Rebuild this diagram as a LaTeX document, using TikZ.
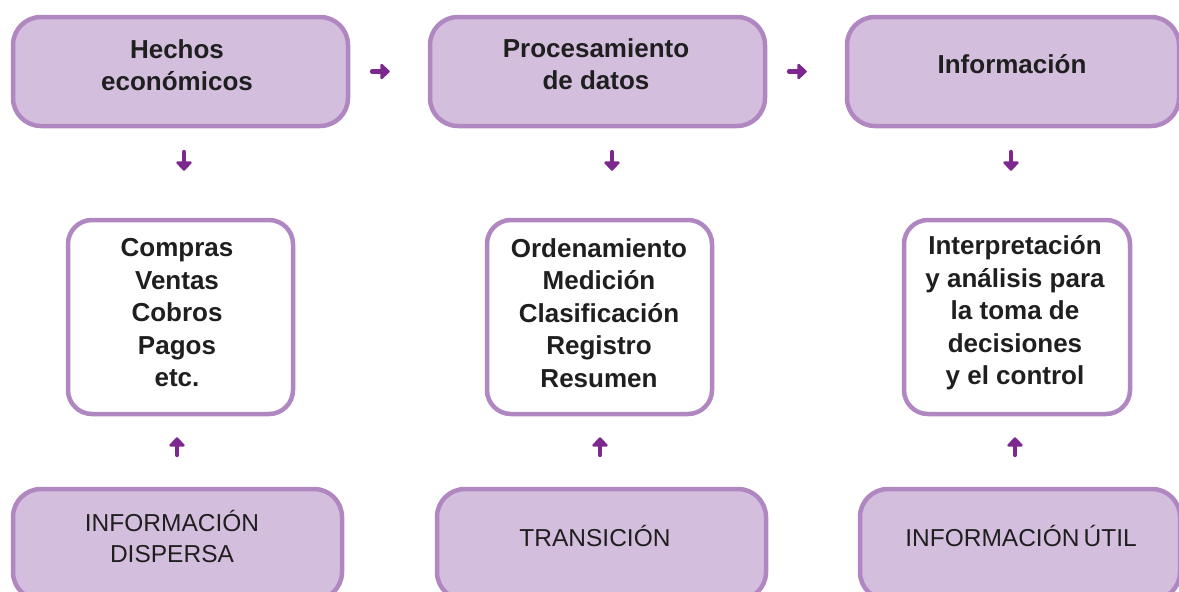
\documentclass[tikz,border=0pt]{standalone}
\usepackage{fontspec}
\setmainfont{Liberation Sans}
\newfontfamily\boldsp{Liberation Sans Bold}
\usetikzlibrary{arrows.meta}
\definecolor{boxfill}{RGB}{212,190,221}
\definecolor{boxline}{RGB}{177,135,193}
\definecolor{arrcol}{RGB}{125,40,142}
\tikzset{
  topbox/.style={draw=boxline, fill=boxfill, line width=4.5pt, rounded corners=28pt, inner sep=0pt},
  midbox/.style={draw=boxline, fill=white, line width=4.5pt, rounded corners=24pt, inner sep=0pt},
  btxt/.style={font=\boldsp\fontsize{26}{32.5}\selectfont, align=center, text=black!88, inner sep=0pt},
  rtxt/.style={font=\fontsize{24.5}{31}\selectfont, align=center, text=black!88, inner sep=0pt},
  arr/.style={draw=arrcol, line width=4.8pt, line cap=round, -{Triangle[length=10pt,width=18pt,round]}}
}
\begin{document}
\begin{tikzpicture}[x=1pt,y=-1pt]
\clip (0,0) rectangle (1179,592);
\fill[white] (0,0) rectangle (1179,592);
% top boxes
\node[topbox, minimum width=335pt, minimum height=109pt] (t1) at (180.5,71.5) {};
\node[topbox, minimum width=335pt, minimum height=109pt] (t2) at (597.5,71.5) {};
\node[topbox, minimum width=332pt, minimum height=109pt] (t3) at (1013,71.5) {};
% middle boxes
\node[midbox, minimum width=225pt, minimum height=194pt] (m1) at (180.5,317) {};
\node[midbox, minimum width=225pt, minimum height=194pt] (m2) at (599.5,317) {};
\node[midbox, minimum width=226pt, minimum height=194pt] (m3) at (1017,317) {};
% bottom boxes
\node[topbox, minimum width=329pt, minimum height=111pt] (b1) at (177.5,544.5) {};
\node[topbox, minimum width=329pt, minimum height=111pt] (b2) at (601.5,544.5) {};
\node[topbox, minimum width=320pt, minimum height=111pt] (b3) at (1020,544.5) {};
% texts
\node[btxt] (t1txt) at (177,65) {Hechos\\econ\'omicos};
\node[btxt] (t2txt) at (596,64) {Procesamiento\\de datos};
\node[btxt] (t3txt) at (1012,64) {Informaci\'on};
\node[btxt] (m1txt) at (177,313) {Compras\\Ventas\\Cobros\\Pagos\\etc.};
\node[btxt] (m2txt) at (599,313) {Ordenamiento\\Medici\'on\\Clasificaci\'on\\Registro\\Resumen};
\node[btxt] (m3txt) at (1015,313) {Interpretaci\'on\\y an\'alisis para\\la toma de\\decisiones\\y el control};
\node[rtxt] (b1txt) at (172,536) {INFORMACI\'ON\\DISPERSA};
\node[rtxt] (b2txt) at (595,536) {TRANSICI\'ON};
\node[rtxt] (b3txt) at (1021,536) {INFORMACI\'ON\,\'UTIL};
% arrows
\draw[arr, shorten <=22pt, shorten >=38pt] (t1) -- (t2);
\draw[arr, shorten <=22pt, shorten >=38pt] (t2) -- (t3);
\draw[arr, shorten <=24pt, shorten >=47pt] ([xshift=3.5pt]t1.south) -- ([xshift=3.5pt]t1.south |- m1.north);
\draw[arr, shorten <=24pt, shorten >=47pt] ([xshift=14.5pt]t2.south) -- ([xshift=14.5pt]t2.south |- m2.north);
\draw[arr, shorten <=24pt, shorten >=47pt] ([xshift=-2pt]t3.south) -- ([xshift=-2pt]t3.south |- m3.north);
\draw[arr, shorten <=32pt, shorten >=21pt] ([xshift=-3.5pt]m1.south |- b1.north) -- ([xshift=-3.5pt]m1.south);
\draw[arr, shorten <=32pt, shorten >=21pt] ([xshift=0.5pt]m2.south |- b2.north) -- ([xshift=0.5pt]m2.south);
\draw[arr, shorten <=32pt, shorten >=21pt] ([xshift=-2pt]m3.south |- b3.north) -- ([xshift=-2pt]m3.south);
\end{tikzpicture}
\end{document}
